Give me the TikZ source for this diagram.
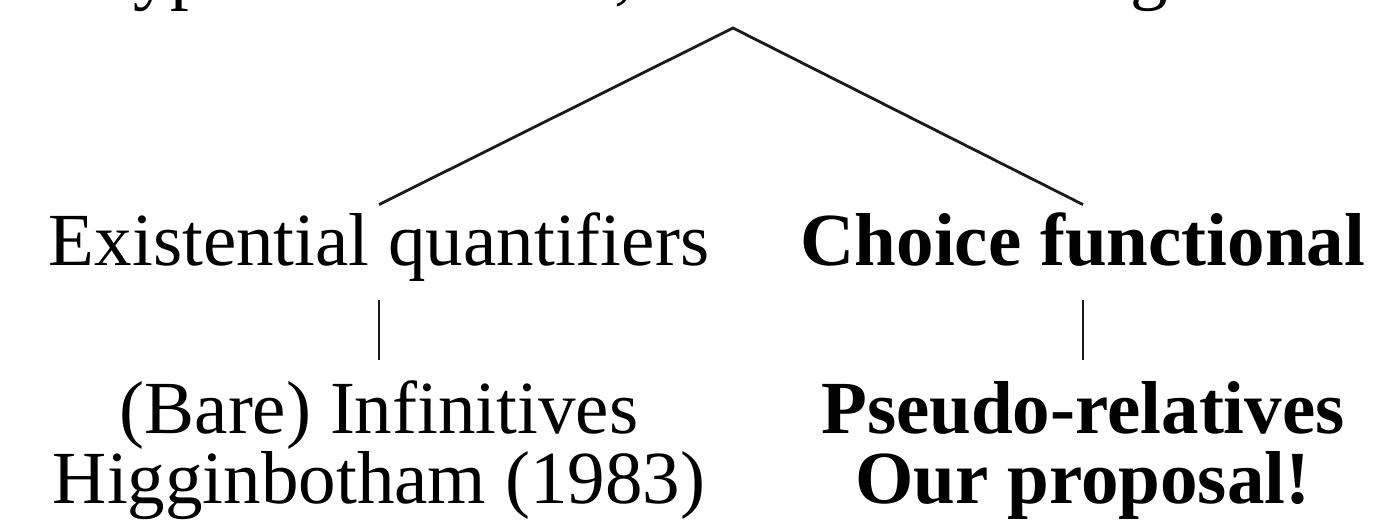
\documentclass[tikz,border=0pt]{standalone}
\usepackage{fontspec}
\setmainfont{Liberation Serif}
\usetikzlibrary{positioning}

\tikzset{
  leaf/.style={font=\fontsize{37.5}{38}\selectfont, inner sep=0pt, text height=30pt, text depth=17.5pt},
  boldleaf/.style={leaf, font=\fontsize{37.5}{38}\selectfont\bfseries},
  lower/.style={outer ysep=6.5pt},
  branch/.style={line width=1.4pt, black!90}
}

\begin{document}
\begin{tikzpicture}[x=0.5pt, y=-0.5pt]
    \useasboundingbox (0,0) rectangle (1376,521);
    \clip (0,0) rectangle (1376,521);

    % Root (cut off at the top)
    \node[leaf, anchor=base west] (root) at (92,-5) {Type of the event, the core meaning of the clause};
    \coordinate (apex) at (733,28);

    % Two analyses
    \node[leaf, anchor=base] (exq) at (379,265) {Existential quantifiers};
    \node[boldleaf, anchor=base] (chf) at (1083,265) {Choice functional};

    % Constructions
    \node[leaf, lower, anchor=base] (bare) at (379,433) {(Bare) Infinitives};
    \node[leaf, anchor=base] (higg) at (379,503) {Higginbotham (1983)};
    \node[boldleaf, lower, anchor=base] (pseudo) at (1083,433) {Pseudo-relatives};
    \node[boldleaf, anchor=base] (ours) at (1083,503) {Our proposal!};

    % Branches
    \draw[branch] (exq.north) -- (apex) -- (chf.north);
    \draw[branch] (exq.south) -- (bare.north);
    \draw[branch] (chf.south) -- (pseudo.north);
\end{tikzpicture}
\end{document}
